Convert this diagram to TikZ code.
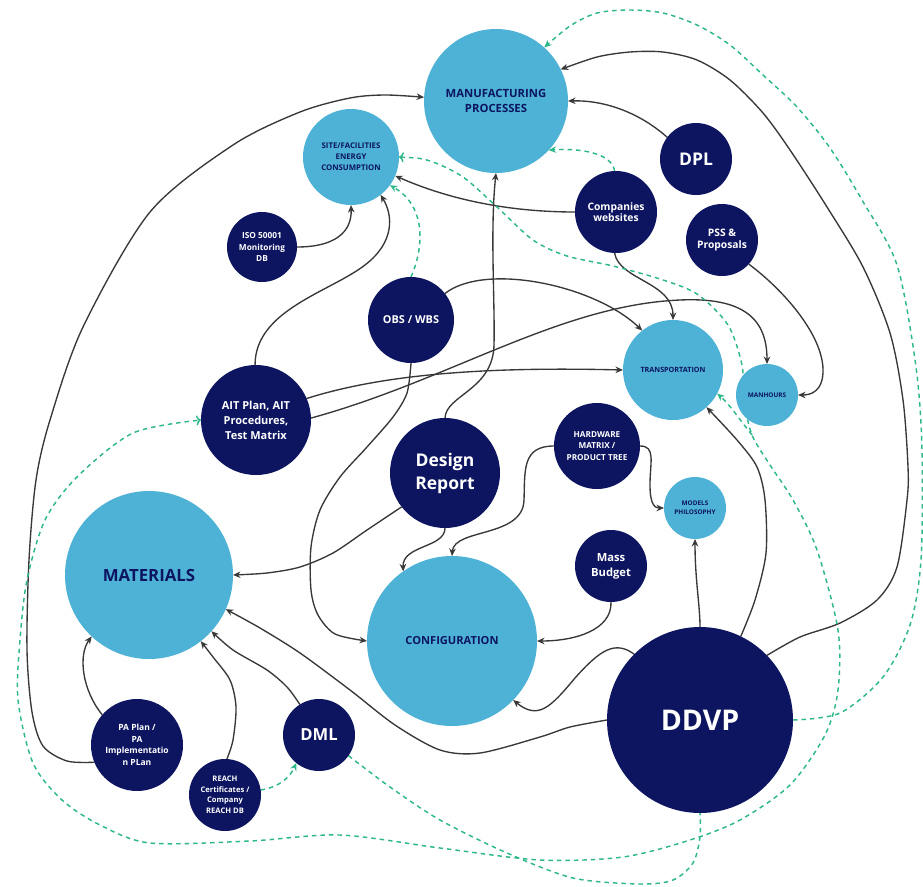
\documentclass[tikz,border=0pt]{standalone}
\usepackage{fontspec}
\setmainfont{Open Sans}
\usetikzlibrary{arrows.meta}
\definecolor{navy}{HTML}{0D1560}
\definecolor{lblue}{HTML}{4DB2D5}
\definecolor{lgrey}{HTML}{383838}
\definecolor{grn}{HTML}{2DB78A}
\pgfdeclarelayer{bg}
\pgfsetlayers{bg,main}
\newcommand\fsz[2]{\fontsize{#1}{#2}\selectfont}
\begin{document}
\begin{tikzpicture}[x=1pt,y=-1pt,
  dk/.style={circle, fill=navy, text=white, inner sep=0pt, outer sep=0pt, align=center, minimum size=#1},
  lt/.style={circle, fill=lblue, text=navy, inner sep=0pt, outer sep=0pt, align=center, minimum size=#1},
  ln/.style={draw=lgrey, line width=1.35pt, -{Stealth[length=7.5pt,width=6.5pt]}},
  gd/.style={draw=grn, line width=1.45pt, dash pattern=on 4.5pt off 4pt, -{Stealth[length=7.5pt,width=6.5pt]}},
]
\useasboundingbox (0,0) rectangle (923,886);
% nodes
\node[lt=144pt, font=\bfseries\fsz{11.3}{15}] (manu) at (496,101) {MANUFACTURING\\PROCESSES};
\node[lt=96pt, font=\bfseries\fsz{7.8}{10.8}] (site) at (351,157) {SITE/FACILITIES\\ENERGY\\CONSUMPTION};
\node[dk=72pt, font=\bfseries\fsz{17.5}{20}] (dpl) at (696,159) {DPL};
\node[dk=82pt, font=\bfseries\fsz{10.3}{11.7}] (comp) at (616,212) {Companies\\websites};
\node[dk=72pt, font=\bfseries\fsz{10.3}{11.7}] (pss) at (722,240) {PSS \&\\Proposals};
\node[dk=70pt, font=\bfseries\fsz{8.3}{11.7}] (iso) at (262,247) {ISO 50001\\Monitoring\\DB};
\node[dk=86pt, font=\bfseries\fsz{10.9}{13}] (obs) at (411,320) {OBS / WBS};
\node[dk=110pt, font=\bfseries\fsz{11}{15}] (ait) at (256,420) {AIT Plan, AIT\\Procedures,\\Test Matrix};
\node[lt=100pt, font=\bfseries\fsz{7.2}{9}] (trans) at (673,370) {TRANSPORTATION};
\node[lt=62pt, font=\bfseries\fsz{6.4}{8}] (manh) at (767,395) {MANHOURS};
\node[dk=110pt, font=\bfseries\fsz{17.5}{23}] (design) at (445,473) {Design\\Report};
\node[dk=86pt, font=\bfseries\fsz{8.2}{11.7}] (hw) at (597,446) {HARDWARE\\MATRIX /\\PRODUCT TREE};
\node[lt=62pt, font=\bfseries\fsz{6.4}{9.3}] (models) at (695,508) {MODELS\\PHILOSOPHY};
\node[dk=72pt, font=\bfseries\fsz{11.2}{15}] (mass) at (611,566) {Mass\\Budget};
\node[lt=168pt, font=\bfseries\fsz{16.8}{20}] (mat) at (149,575) {MATERIALS};
\node[lt=170pt, font=\bfseries\fsz{11.1}{14}] (conf) at (452,641) {CONFIGURATION};
\node[dk=186pt, font=\bfseries\fsz{28.5}{32}] (ddvp) at (700,720) {DDVP};
\node[dk=72pt, font=\bfseries\fsz{16.6}{20}] (dml) at (319,735) {DML};
\node[dk=92pt, font=\bfseries\fsz{8.5}{11.5}] (pa) at (137,745) {PA Plan /\\PA\\Implementatio\\n PLan};
\node[dk=72pt, font=\bfseries\fsz{7.6}{10.5}] (reach) at (225,795) {REACH\\Certificates /\\Company\\REACH DB};
\coordinate (jn) at (752,435);
\begin{pgfonlayer}{bg}
\fill[white] (0,0) rectangle (923,886);
% solid connectors
\draw[ln] plot[smooth] coordinates {(pa.202) (67,761) (43,746) (32,712) (27,650) (29,560) (36,480) (50,420) (83,327) (150,212) (233,145) (300,112) (350,98) (385,95) (manu.177)};
\draw[ln] (pa.139) .. controls (82,690) and (78,655) .. (mat.227);
\draw[ln] plot[smooth] coordinates {(reach.87) (233,740) (236,707) (230,680) (213,657) (mat.308)};
\draw[ln] plot[smooth] coordinates {(dml.122) (287,687) (267,670) (233,650) (mat.318)};
\draw[ln] plot[smooth] coordinates {(ddvp.180) (570,727) (540,737) (480,753) (440,750) (395,725) (350,690) (300,653) (260,628) (mat.336)};
\draw[ln] plot[smooth] coordinates {(design.218) (367,530) (333,553) (300,567) (267,573) (mat.0)};
\draw[ln] (design.270) .. controls (445,548) and (402,545) .. (conf.125);
\draw[ln] (hw.180) .. controls (522,446) and (525,470) .. (524,500) .. controls (523,538) and (454,528) .. (conf.90);
\draw[ln] (hw.0) .. controls (656,446) and (650,462) .. (650,485) .. controls (650,505) and (655,508) .. (models.180);
\draw[ln] (mass.270) .. controls (612,630) and (575,641) .. (conf.0);
\draw[ln] (ddvp.135) .. controls (615,640) and (600,650) .. (575,678) .. controls (550,708) and (538,720) .. (conf.316);
\draw[ln] (ddvp.90) .. controls (700,605) and (695,580) .. (models.270);
\draw[ln] plot[smooth] coordinates {(ddvp.64) (755,600) (766,553) (765,500) (757,467) (737,440) (trans.312)};
\draw[ln] plot[smooth] coordinates {(ddvp.44) (800,637) (840,623) (877,600) (897,567) (907,500) (908,467) (903,400) (890,333) (863,267) (827,207) (790,150) (763,113) (730,80) (697,60) (663,52) (630,52) (597,57) (manu.26)};
\draw[ln] (dpl.143) .. controls (640,113) and (605,100) .. (manu.0);
\draw[ln] (comp.180) .. controls (510,212) and (450,200) .. (site.337);
\draw[ln] (comp.268) .. controls (619,280) and (673,282) .. (trans.90);
\draw[ln] (pss.318) .. controls (790,295) and (830,345) .. (822,380) .. controls (819,392) and (810,395) .. (manh.0);
\draw[ln] (iso.0) .. controls (335,247) and (352,232) .. (site.270);
\draw[ln] (ait.91) .. controls (255,310) and (330,292) .. (365,265) .. controls (395,242) and (393,215) .. (site.308);
\draw[ln] (obs.38) .. controls (485,262) and (595,285) .. (trans.128);
\draw[ln] plot[smooth] coordinates {(obs.270) (407,393) (393,417) (367,447) (340,477) (320,510) (311,547) (311,590) (318,615) (335,634) (conf.180)};
\draw[ln] (ait.23) .. controls (390,372) and (500,367) .. (trans.180);
\draw[ln] (ait.2) .. controls (450,380) and (560,305) .. (680,300) .. controls (745,297) and (767,320) .. (manh.90);
\draw[ln] (design.90) .. controls (446,395) and (493,390) .. (494,345) .. controls (495,300) and (490,230) .. (manu.270);
% dashed green connectors
\draw[gd] plot[smooth] coordinates {(ddvp.0) (840,713) (883,677) (910,625) (921,560) (922,450) (916,367) (897,265) (862,200) (830,148) (797,107) (763,75) (730,45) (697,25) (663,13) (630,10) (597,13) (570,26) (manu.48)};
\draw[gd] (comp.92) .. controls (612,153) and (580,148) .. (manu.317);
\draw[gd] (obs.90) .. controls (425,245) and (425,205) .. (site.324);
\draw[gd,<->] plot[smooth] coordinates {(site.0) (430,161) (463,177) (497,207) (533,240) (567,256) (613,266) (660,279) (697,294) (728,325) (742,365) (744,400) (jn) (770,465) (793,500) (817,550) (838,630) (838,690) (825,735) (790,785) (740,820) (690,840) (623,857) (540,860) (440,848) (340,835) (250,841) (150,843) (100,825) (62,800) (33,763) (18,700) (20,640) (27,580) (45,520) (77,477) (133,433) (ait.180)};
\draw[gd] (jn) .. controls (740,420) and (730,405) .. (trans.332);
\draw[gd,-] plot[smooth] coordinates {(dml.325) (390,787) (440,820) (507,853) (573,878) (640,884) (673,880) (693,863) (700,837) (ddvp.270)};
\draw[gd] (reach.8) .. controls (280,787) and (290,777) .. (dml.231);
\end{pgfonlayer}
\end{tikzpicture}
\end{document}
